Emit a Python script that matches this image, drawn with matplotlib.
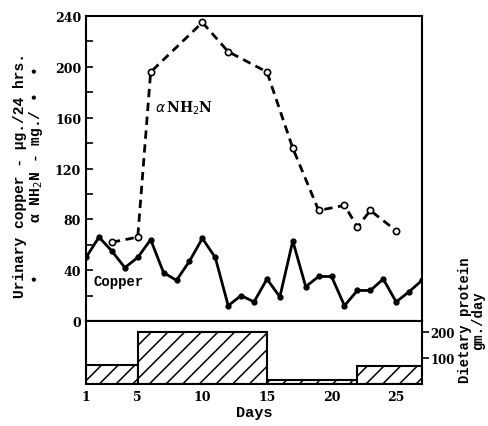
import numpy as np
import matplotlib
matplotlib.use('Agg')
import matplotlib.pyplot as plt

# urinary copper, ug/24 hrs, one value per day
copper_days = list(range(1, 28))
copper = [50, 66, 55, 42, 50, 64, 38, 32, 47, 65, 50, 12, 20, 15, 33,
          19, 63, 27, 35, 35, 12, 24, 24, 33, 15, 23, 32]

# alpha amino nitrogen, mg/24 hrs
nh2n_days = [3, 5, 6, 10, 12, 15, 17, 19, 21, 22, 23, 25]
nh2n = [62, 66, 196, 235, 212, 196, 136, 87, 91, 74, 87, 71]

# dietary protein, gm/day, as steps
protein_start = [1, 5, 15, 22]
protein_end = [5, 15, 22, 27]
protein = [75, 200, 15, 70]

day_ticks = [1, 5, 10, 15, 20, 25]

plt.rcParams['font.family'] = ['DejaVu Serif']
plt.rcParams['hatch.linewidth'] = 1.1

fig = plt.figure(figsize=(4.89, 4.27), dpi=100)
ax = fig.add_axes([0.176, 0.246, 0.687, 0.714])
ax2 = fig.add_axes([0.176, 0.098, 0.687, 0.148], sharex=ax)

# upper panel
ax.plot(copper_days, copper, '-', color='k', lw=2, marker='o', ms=3.5)
ax.plot(nh2n_days, nh2n, '--', color='k', lw=2, dashes=(3, 2),
        marker='o', ms=4.5, mfc='white', mew=1.2)
ax.set_xlim(1, 27)
ax.set_ylim(0, 240)
ax.set_yticks(range(0, 241, 40))
ax.set_yticks(range(20, 240, 40), minor=True)
ax.tick_params(axis='y', which='both', direction='in', length=5, width=1.2,
               labelsize=9)
for lab in ax.get_yticklabels():
    lab.set_fontweight('bold')
ax.tick_params(axis='x', which='both', bottom=False, labelbottom=False)
for s in ax.spines.values():
    s.set_linewidth(1.5)

ax.text(6.3, 165, r'$\alpha\,$NH$_2$N', fontsize=10, fontweight='bold')
ax.text(1.6, 28, 'Copper', fontsize=10, fontweight='bold',
        family='Liberation Mono')

# lower panel, protein blocks
for s0, s1, v in zip(protein_start, protein_end, protein):
    ax2.bar(s0, v, width=s1 - s0, align='edge', color='white',
            edgecolor='k', hatch='//', lw=1.5)
ax2.set_ylim(0, 242)
ax2.yaxis.tick_right()
ax2.set_yticks([100, 200])
ax2.tick_params(axis='y', direction='out', length=5, width=1.2, labelsize=8.5,
                pad=1)
for lab in ax2.get_yticklabels():
    lab.set_fontweight('bold')
ax2.set_xticks(day_ticks)
ax2.tick_params(axis='x', length=0, labelsize=9, pad=4)
for lab in ax2.get_xticklabels():
    lab.set_fontweight('bold')
for s in ax2.spines.values():
    s.set_linewidth(1.5)

ax2.set_xlabel('Days', fontsize=11, fontweight='bold',
               family='Liberation Mono', labelpad=2)

fig.text(0.040, 0.59, 'Urinary copper - \u03bcg./24 hrs.', rotation=90,
         ha='center', va='center', fontsize=10.5, fontweight='bold',
         family='Liberation Mono')
fig.text(0.074, 0.59, '\u2022      \u03b1 NH$_2$N - mg./ \u2022  \u2022', rotation=90,
         ha='center', va='center', fontsize=10.5, fontweight='bold',
         family='Liberation Mono')
fig.text(0.965, 0.25, 'Dietary protein\ngm./day', rotation=90,
         ha='center', va='center', fontsize=10, fontweight='bold',
         family='Liberation Mono', linespacing=0.95)

fig.savefig('out.png', dpi=100)
